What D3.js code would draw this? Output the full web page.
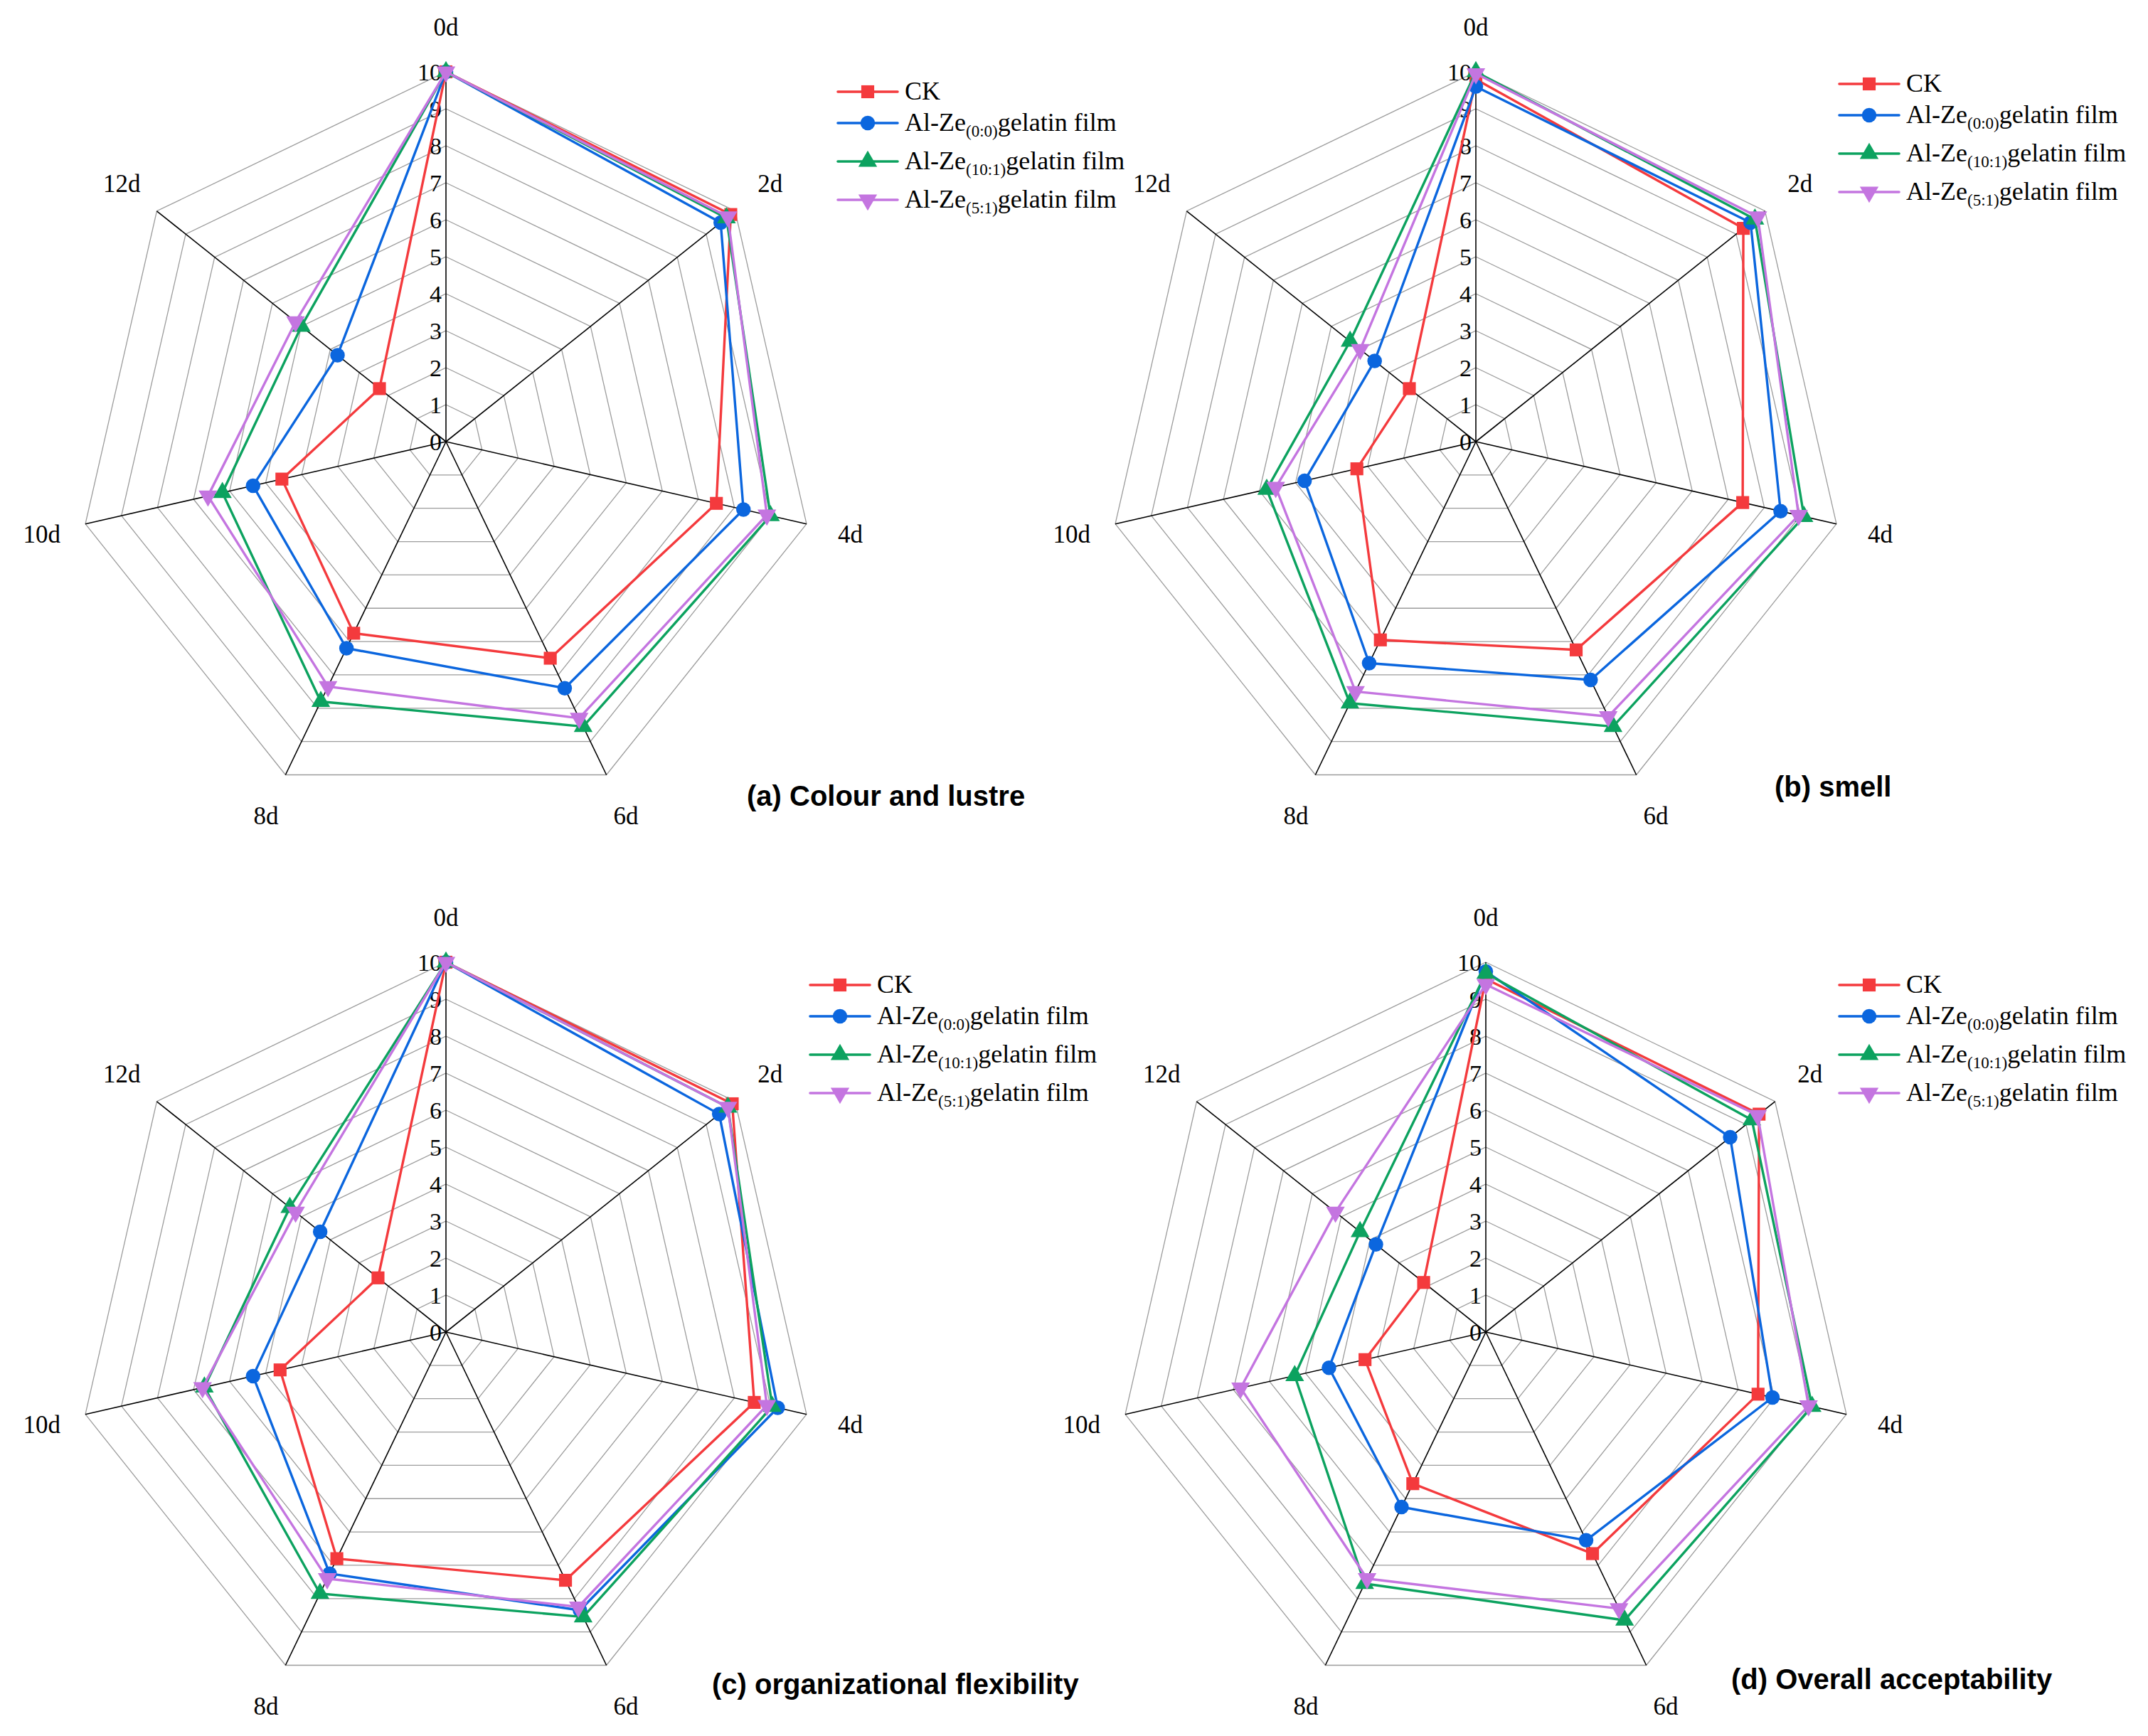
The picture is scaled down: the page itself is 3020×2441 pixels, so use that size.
<!DOCTYPE html>
<html>
<head>
<meta charset="utf-8">
<script src="https://cdn.jsdelivr.net/npm/d3@7"></script>
<style>
  html, body { margin: 0; padding: 0; background: #fff; }
  svg { display: block; }
</style>
</head>
<body>
<svg id="chart" width="3020" height="2441"></svg>
<script>
// ---------- data ----------
const days = ["0d", "2d", "4d", "6d", "8d", "10d", "12d"];
const tickValues = [0, 1, 2, 3, 4, 5, 6, 7, 8, 9, 10];

const seriesBase = ["CK", "Al-Ze", "Al-Ze", "Al-Ze"];
const seriesSub = ["", "(0:0)", "(10:1)", "(5:1)"];
const seriesSuffix = ["", "gelatin film", "gelatin film", "gelatin film"];

const panelTitles = [
  "(a) Colour and lustre",
  "(b) smell",
  "(c) organizational flexibility",
  "(d) Overall acceptability"
];

// (a) Colour and lustre
const colourCK   = [10, 9.85, 7.5, 6.5, 5.75, 4.55, 2.3];
const colour00   = [10, 9.5, 8.25, 7.4, 6.2, 5.35, 3.75];
const colour101  = [10, 9.7, 9.0, 8.55, 7.8, 6.2, 5.0];
const colour51   = [10, 9.75, 8.9, 8.3, 7.35, 6.6, 5.2];

// (b) smell
const smellCK    = [9.8, 9.25, 7.4, 6.25, 5.95, 3.3, 2.3];
const smell00    = [9.6, 9.5, 8.45, 7.15, 6.65, 4.75, 3.5];
const smell101   = [10, 9.65, 9.1, 8.55, 7.85, 5.8, 4.35];
const smell51    = [9.95, 9.75, 8.95, 8.25, 7.5, 5.55, 4.0];

// (c) organizational flexibility
const flexCK     = [10, 9.9, 8.55, 7.45, 6.8, 4.6, 2.35];
const flex00     = [10, 9.45, 9.2, 8.35, 7.25, 5.35, 4.35];
const flex101    = [10, 9.75, 9.05, 8.55, 7.85, 6.7, 5.4];
const flex51     = [10, 9.75, 8.9, 8.25, 7.4, 6.75, 5.2];

// (d) Overall acceptability
const overallCK  = [9.55, 9.45, 7.55, 6.65, 4.55, 3.35, 2.15];
const overall00  = [9.75, 8.45, 7.95, 6.25, 5.25, 4.35, 3.8];
const overall101 = [9.7, 9.2, 9.05, 8.65, 7.55, 5.3, 4.35];
const overall51  = [9.4, 9.4, 8.95, 8.3, 7.4, 6.8, 5.2];

const panelData = [
  [colourCK, colour00, colour101, colour51],
  [smellCK, smell00, smell101, smell51],
  [flexCK, flex00, flex101, flex51],
  [overallCK, overall00, overall101, overall51]
];

// ---------- styles / layout ----------
const colors = ["#F43A3D", "#0B66DE", "#0CA25F", "#C475E0"];
const symbols = [d3.symbolSquare, d3.symbolCircle, d3.symbolTriangle, d3.symbolTriangle];
const symbolSizes = [330, 330, 300, 300];
const symbolRot = [0, 0, 0, 180];

const panels = [
  { cx: 627,  cy: 621,  legendX: 1272, legendY: 129,  titleX: 1050, titleY: 1133 },
  { cx: 2075, cy: 621,  legendX: 2680, legendY: 118,  titleX: 2495, titleY: 1120 },
  { cx: 627,  cy: 1873, legendX: 1233, legendY: 1385, titleX: 1001, titleY: 2382 },
  { cx: 2089, cy: 1873, legendX: 2680, legendY: 1385, titleX: 2434, titleY: 2375 }
];
const legendOffsets = [0, 44, 98, 152];

const R = 520;
const serif = "'Liberation Serif', 'Times New Roman', serif";
const sans = "'Liberation Sans', Arial, sans-serif";

const svg = d3.select("#chart");
svg.append("rect").attr("width", 3020).attr("height", 2441).attr("fill", "#fff");

const r = d3.scaleLinear().domain([0, 10]).range([0, R]);
const angle = d3.scaleBand().domain(days).range([0, 2 * Math.PI]).paddingInner(0).paddingOuter(0).align(0);

function pt(day, v) {
  const a = angle(day);
  return [Math.sin(a) * r(v), -Math.cos(a) * r(v)];
}

panels.forEach((p, pi) => {
  const g = svg.append("g").attr("transform", `translate(${p.cx},${p.cy})`);

  // rings
  const ringLine = d3.lineRadial()
    .angle(d => angle(d))
    .curve(d3.curveLinearClosed);
  tickValues.filter(t => t > 0).forEach(t => {
    g.append("path")
      .attr("d", ringLine.radius(() => r(t))(days))
      .attr("fill", "none")
      .attr("stroke", "#9c9c9c")
      .attr("stroke-width", 1.3);
  });

  // spokes
  g.selectAll("line.spoke").data(days).enter().append("line")
    .attr("x1", 0).attr("y1", 0)
    .attr("x2", d => pt(d, 10)[0])
    .attr("y2", d => pt(d, 10)[1])
    .attr("stroke", "#000")
    .attr("stroke-width", 1.6);

  // tick labels
  g.selectAll("text.tick").data(tickValues).enter().append("text")
    .attr("x", -6)
    .attr("y", d => -r(d))
    .attr("dy", "0.36em")
    .attr("text-anchor", "end")
    .attr("font-family", serif)
    .attr("font-size", 34)
    .attr("fill", "#000")
    .text(d => d);

  // axis labels
  const labelR = 583;
  g.selectAll("text.axis").data(days).enter().append("text")
    .attr("x", d => Math.sin(angle(d)) * labelR)
    .attr("y", d => -Math.cos(angle(d)) * labelR)
    .attr("dy", "0.35em")
    .attr("text-anchor", "middle")
    .attr("font-family", serif)
    .attr("font-size", 35)
    .attr("fill", "#000")
    .text(d => d);

  // series lines
  const dataLine = d3.lineRadial()
    .angle((d, i) => angle(days[i]))
    .radius(d => r(d))
    .curve(d3.curveLinearClosed);

  panelData[pi].forEach((vals, si) => {
    g.append("path")
      .attr("d", dataLine(vals))
      .attr("fill", "none")
      .attr("stroke", colors[si])
      .attr("stroke-width", 3.4)
      .attr("stroke-linejoin", "round");
    const sym = d3.symbol().type(symbols[si]).size(symbolSizes[si]);
    g.selectAll(null).data(vals).enter().append("path")
      .attr("d", sym())
      .attr("transform", (d, i) => {
        const [x, y] = pt(days[i], d);
        return `translate(${x},${y}) rotate(${symbolRot[si]})`;
      })
      .attr("fill", colors[si]);
  });

  // legend
  const lg = svg.append("g");
  seriesBase.forEach((base, si) => {
    const y = p.legendY + legendOffsets[si];
    lg.append("line")
      .attr("x1", p.legendX - 94).attr("x2", p.legendX - 10)
      .attr("y1", y).attr("y2", y)
      .attr("stroke", colors[si]).attr("stroke-width", 3.6)
      .attr("stroke-linecap", "round");
    lg.append("path")
      .attr("d", d3.symbol().type(symbols[si]).size(symbolSizes[si])())
      .attr("transform", `translate(${p.legendX - 52},${y}) rotate(${symbolRot[si]})`)
      .attr("fill", colors[si]);
    const t = lg.append("text")
      .attr("x", p.legendX)
      .attr("y", y + 11)
      .attr("font-family", serif)
      .attr("font-size", 36)
      .attr("fill", "#000");
    t.append("tspan").text(base);
    if (seriesSub[si]) {
      t.append("tspan").attr("font-size", 23).attr("dy", 8).text(seriesSub[si]);
      t.append("tspan").attr("font-size", 36).attr("dy", -8).text(seriesSuffix[si]);
    }
  });

  // title
  svg.append("text")
    .attr("x", p.titleX)
    .attr("y", p.titleY)
    .attr("font-family", sans)
    .attr("font-weight", "bold")
    .attr("font-size", 40)
    .attr("fill", "#000")
    .text(panelTitles[pi]);
});
</script>
</body>
</html>
